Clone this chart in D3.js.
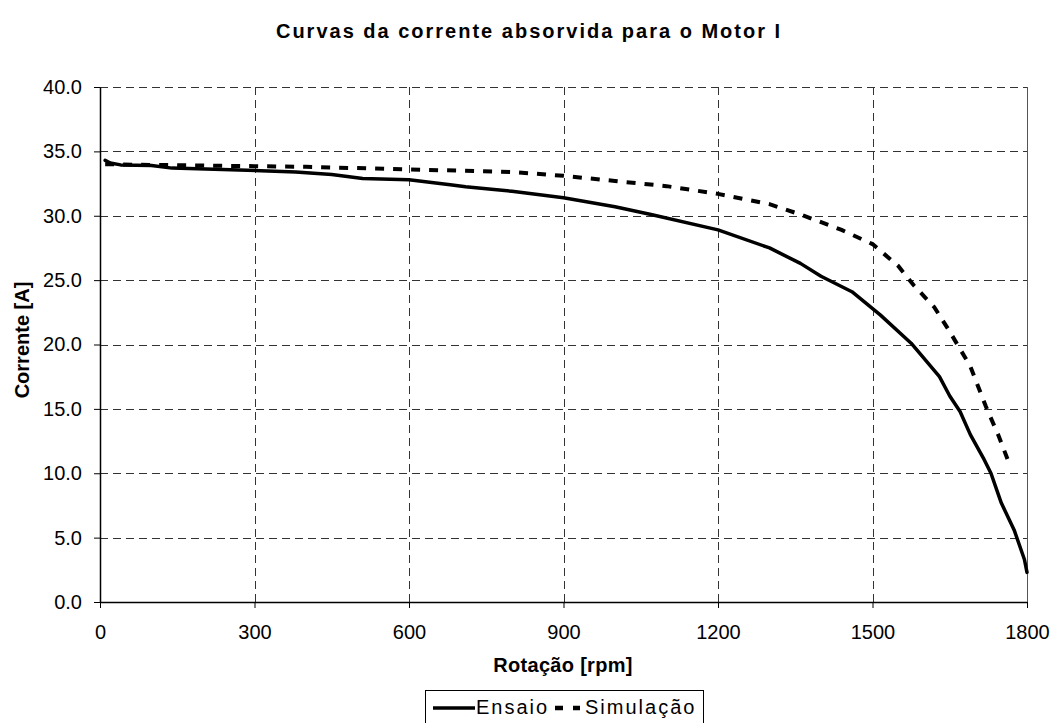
<!DOCTYPE html>
<html>
<head>
<meta charset="utf-8">
<script src="https://cdn.jsdelivr.net/npm/d3@7"></script>
<style>
  html, body { margin: 0; padding: 0; background: #fff; }
  svg { display: block; font-family: Arial, "Liberation Sans", sans-serif; }
</style>
</head>
<body>
<svg id="chart" width="1052" height="723"></svg>
<script>
// Measured current (Ensaio) vs. rotation speed
const ensaioRpm = [10, 20, 40, 100, 140, 270, 380, 450, 510, 600, 640, 680, 710, 760, 800, 900, 1000, 1070, 1200, 1300, 1360, 1400, 1460, 1515, 1575, 1630, 1650, 1670, 1690, 1715, 1730, 1750, 1775, 1795, 1800];
const ensaioA   = [34.3, 34.1, 33.95, 33.9, 33.7, 33.55, 33.4, 33.2, 32.9, 32.8, 32.6, 32.4, 32.25, 32.05, 31.9, 31.4, 30.7, 30.1, 28.9, 27.5, 26.3, 25.3, 24.1, 22.3, 20.1, 17.5, 16.0, 14.8, 13.0, 11.2, 10.0, 7.7, 5.6, 3.3, 2.3];

// Simulated current (Simulação) vs. rotation speed
const simRpm = [10, 100, 200, 300, 400, 500, 600, 700, 800, 900, 1000, 1100, 1200, 1300, 1360, 1440, 1500, 1550, 1580, 1620, 1650, 1690, 1720, 1745, 1765];
const simA   = [34.0, 33.95, 33.9, 33.85, 33.8, 33.7, 33.6, 33.5, 33.4, 33.1, 32.7, 32.3, 31.7, 30.9, 30.1, 28.9, 27.8, 26.1, 24.6, 22.9, 21.0, 18.3, 15.2, 12.9, 10.8];

// Axis ticks
const xTicks = [0, 300, 600, 900, 1200, 1500, 1800];
const yTicks = [0, 5, 10, 15, 20, 25, 30, 35, 40];

const titleText = "Curvas da corrente absorvida para o Motor I";
const xTitle = "Rotação [rpm]";
const yTitle = "Corrente [A]";
const seriesNames = ["Ensaio", "Simulação"];

const svg = d3.select("#chart");
const plot = { left: 100, right: 1027, top: 87, bottom: 602 };

const x = d3.scaleLinear().domain([0, 1800]).range([plot.left, plot.right]);
const y = d3.scaleLinear().domain([0, 40]).range([plot.bottom, plot.top]);

// Grid lines
const grid = svg.append("g").attr("stroke", "#333").attr("stroke-width", 1)
  .attr("stroke-dasharray", "8,5").attr("shape-rendering", "crispEdges");
grid.selectAll("line.h").data(yTicks.filter(d => d > 0)).join("line")
  .attr("x1", plot.left).attr("x2", plot.right)
  .attr("y1", d => Math.round(y(d)) + 0.5).attr("y2", d => Math.round(y(d)) + 0.5);
grid.selectAll("line.v").data(xTicks.filter(d => d > 0 && d < 1800)).join("line")
  .attr("y1", plot.top).attr("y2", plot.bottom)
  .attr("x1", d => Math.round(x(d)) + 0.5).attr("x2", d => Math.round(x(d)) + 0.5);

// Right border of plot area
svg.append("line")
  .attr("x1", plot.right + 0.5).attr("x2", plot.right + 0.5)
  .attr("y1", plot.top).attr("y2", plot.bottom)
  .attr("stroke", "#555").attr("stroke-width", 1);

// Axes
const xAxis = svg.append("g").attr("transform", `translate(0,${plot.bottom})`)
  .call(d3.axisBottom(x).tickValues(xTicks).tickSize(6).tickSizeOuter(0).tickPadding(17).tickFormat(d3.format("d")));
const yAxis = svg.append("g").attr("transform", `translate(${plot.left},0)`)
  .call(d3.axisLeft(y).tickValues(yTicks).tickSize(6).tickSizeOuter(0).tickPadding(12).tickFormat(d3.format(".1f")));
[xAxis, yAxis].forEach(a => {
  a.select(".domain").attr("stroke", "#000").attr("stroke-width", 1.5);
  a.selectAll(".tick line").attr("stroke", "#000");
  a.selectAll(".tick text").attr("font-size", 20).attr("fill", "#000")
    .attr("font-family", "Arial, 'Liberation Sans', sans-serif");
});

// Series lines
const line = d3.line().x(d => x(d[0])).y(d => y(d[1]));
const ensaio = ensaioRpm.map((r, i) => [r, ensaioA[i]]);
const sim = simRpm.map((r, i) => [r, simA[i]]);

svg.append("path").datum(sim).attr("d", line)
  .attr("fill", "none").attr("stroke", "#000").attr("stroke-width", 4)
  .attr("stroke-dasharray", "9,9");
svg.append("path").datum(ensaio).attr("d", line)
  .attr("fill", "none").attr("stroke", "#000").attr("stroke-width", 3.5)
  .attr("stroke-linejoin", "round").attr("stroke-linecap", "round");

// Titles
svg.append("text").attr("x", 529).attr("y", 38).attr("text-anchor", "middle")
  .attr("font-size", 20).attr("font-weight", "bold").attr("letter-spacing", 2)
  .text(titleText);
svg.append("text").attr("x", 563).attr("y", 672).attr("text-anchor", "middle")
  .attr("font-size", 20).attr("font-weight", "bold").attr("letter-spacing", 0.3)
  .text(xTitle);
svg.append("text").attr("transform", "translate(29,340) rotate(-90)").attr("text-anchor", "middle")
  .attr("font-size", 20).attr("font-weight", "bold")
  .text(yTitle);

// Legend
const lg = svg.append("g");
lg.append("rect").attr("x", 425.5).attr("y", 690.5).attr("width", 278).attr("height", 40)
  .attr("fill", "#fff").attr("stroke", "#000").attr("stroke-width", 1);
lg.append("line").attr("x1", 433).attr("x2", 475).attr("y1", 708).attr("y2", 708)
  .attr("stroke", "#000").attr("stroke-width", 3.5);
lg.append("text").attr("x", 476).attr("y", 714).attr("font-size", 20).attr("letter-spacing", 2)
  .text(seriesNames[0]);
lg.append("line").attr("x1", 555).attr("x2", 580).attr("y1", 708).attr("y2", 708)
  .attr("stroke", "#000").attr("stroke-width", 4.5).attr("stroke-dasharray", "8,10");
lg.append("text").attr("x", 585).attr("y", 714).attr("font-size", 20).attr("letter-spacing", 2)
  .text(seriesNames[1]);
</script>
</body>
</html>
